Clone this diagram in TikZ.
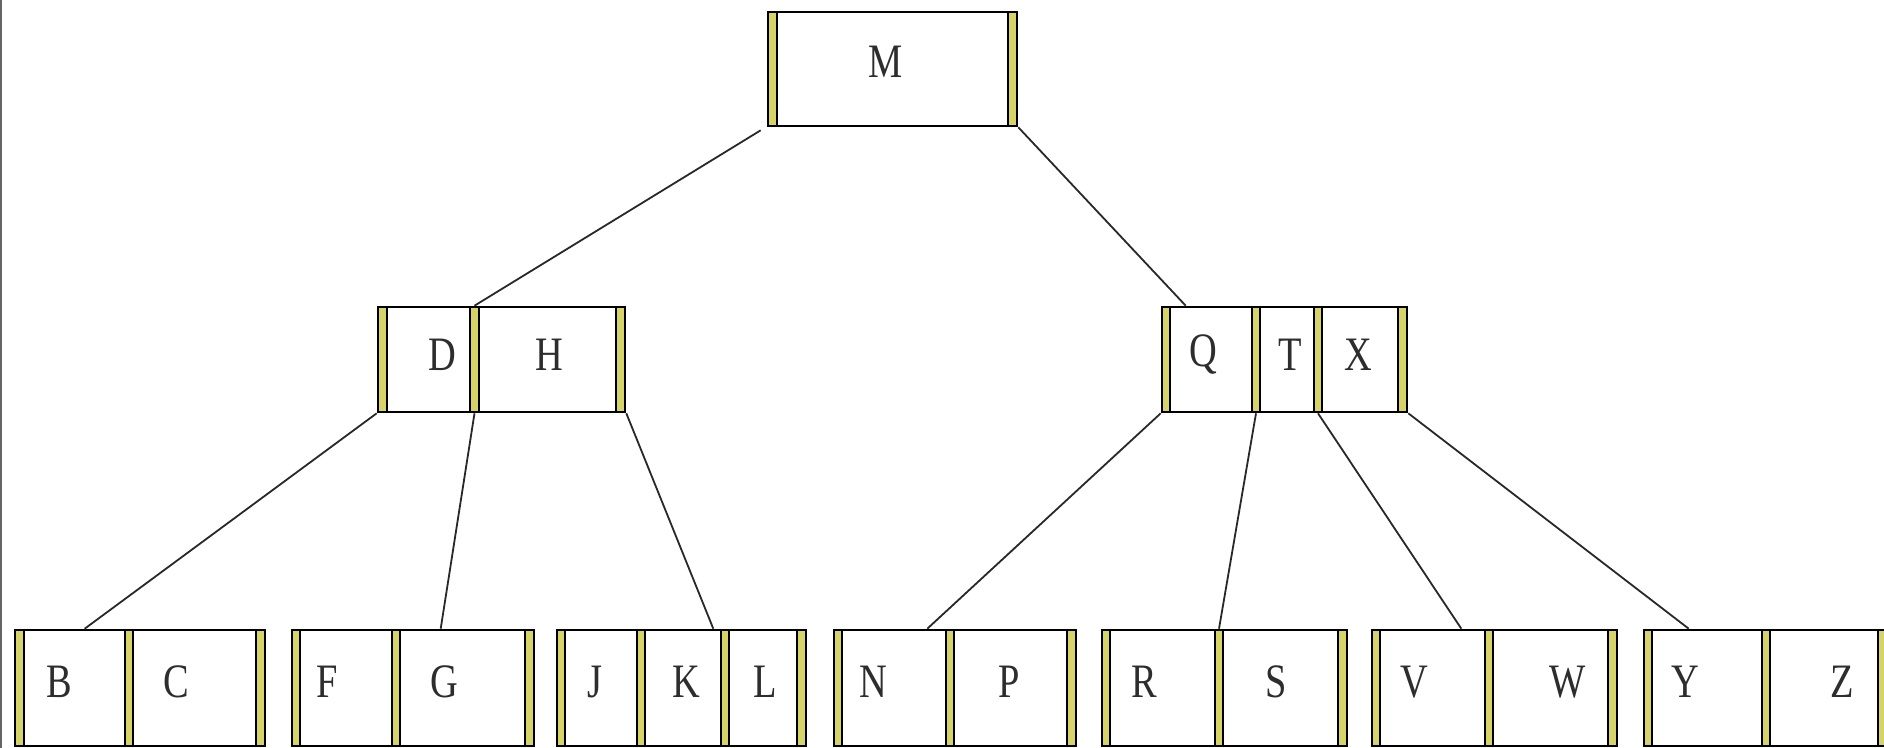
\documentclass[tikz,border=0pt]{standalone}
\usepackage{fontspec}
\usepackage{graphicx}
\setmainfont{Liberation Serif}
\usetikzlibrary{fit,calc}
\definecolor{ptr}{RGB}{214,212,104}
\definecolor{keygray}{RGB}{45,45,45}
\definecolor{linkgray}{RGB}{40,40,40}
\definecolor{edgegray}{RGB}{100,100,100}
\newcommand\keyfont{\fontsize{24}{28}\selectfont}
\newcommand\ptrbar[5]{\node[bar, fit={(#2,#4)(#3,#5)}] (#1) {};}
\newcommand\keycell[5]{\node[cell, fit={(#2,#4)(#3,#5)}] (#1) {};}
\newcommand\keytext[4]{\node[key] (#1) at (#2,#3) {\scalebox{0.8}[1]{#4}};}
\begin{document}
\begin{tikzpicture}[x=0.5pt,y=-0.5pt,
  bar/.style={draw=black, fill=ptr, line width=1.3pt, inner sep=0pt},
  cell/.style={draw=black, line width=1.3pt, inner sep=0pt},
  key/.style={font=\keyfont, text=keygray, inner sep=0pt},
  link/.style={draw=linkgray, line width=0.9pt}]
\useasboundingbox (0,0) rectangle (1884,748);
\fill[white] (0,0) rectangle (1884,748);
\draw[edgegray, line width=1pt] (1,0) -- (1,748);

% ---- root
\keycell{Mc}{777}{1008}{12}{126}
\ptrbar{Mb1}{768}{777}{12}{126}
\ptrbar{Mb2}{1008}{1017}{12}{126}
\keytext{Mt}{886}{62}{M}

% ---- D H
\keycell{Dc}{387}{470}{307}{412}
\keycell{Hc}{479}{616}{307}{412}
\ptrbar{DHb1}{378}{387}{307}{412}
\ptrbar{DHb2}{470}{479}{307}{412}
\ptrbar{DHb3}{616}{625}{307}{412}
\keytext{Dt}{442}{355}{D}
\keytext{Ht}{549}{355}{H}

% ---- Q T X
\keycell{Qc}{1170}{1252}{307}{412}
\keycell{Tc}{1260}{1314}{307}{412}
\keycell{Xc}{1322}{1398}{307}{412}
\ptrbar{QTXb1}{1162}{1170}{307}{412}
\ptrbar{QTXb2}{1252}{1260}{307}{412}
\ptrbar{QTXb3}{1314}{1322}{307}{412}
\ptrbar{QTXb4}{1398}{1407}{307}{412}
\keytext{Qt}{1203}{355}{Q}
\keytext{Tt}{1290}{355}{T}
\keytext{Xt}{1358}{355}{X}

% ---- leaves
\keycell{Bc}{24}{125}{630}{746}
\keycell{Cc}{133}{256}{630}{746}
\ptrbar{L1b1}{15}{24}{630}{746}
\ptrbar{L1b2}{125}{133}{630}{746}
\ptrbar{L1b3}{256}{265}{630}{746}
\keytext{Bt}{59}{682}{B}
\keytext{Ct}{176}{682}{C}

\keycell{Fc}{300}{392}{630}{746}
\keycell{Gc}{400}{525}{630}{746}
\ptrbar{L2b1}{292}{300}{630}{746}
\ptrbar{L2b2}{392}{400}{630}{746}
\ptrbar{L2b3}{525}{534}{630}{746}
\keytext{Ft}{327}{682}{F}
\keytext{Gt}{444}{682}{G}

\keycell{Jc}{565}{637}{630}{746}
\keycell{Kc}{645}{721}{630}{746}
\keycell{Lc}{729}{797}{630}{746}
\ptrbar{L3b1}{557}{565}{630}{746}
\ptrbar{L3b2}{637}{645}{630}{746}
\ptrbar{L3b3}{721}{729}{630}{746}
\ptrbar{L3b4}{797}{806}{630}{746}
\keytext{Jt}{595}{682}{J}
\keytext{Kt}{686}{682}{K}
\keytext{Lt}{765}{682}{L}

\keycell{Nc}{842}{946}{630}{746}
\keycell{Pc}{954}{1067}{630}{746}
\ptrbar{L4b1}{834}{842}{630}{746}
\ptrbar{L4b2}{946}{954}{630}{746}
\ptrbar{L4b3}{1067}{1076}{630}{746}
\keytext{Nt}{873}{682}{N}
\keytext{Pt}{1009}{682}{P}

\keycell{Rc}{1110}{1215}{630}{746}
\keycell{Sc}{1223}{1338}{630}{746}
\ptrbar{L5b1}{1102}{1110}{630}{746}
\ptrbar{L5b2}{1215}{1223}{630}{746}
\ptrbar{L5b3}{1338}{1347}{630}{746}
\keytext{Rt}{1144}{682}{R}
\keytext{St}{1276}{682}{S}

\keycell{Vc}{1380}{1485}{630}{746}
\keycell{Wc}{1493}{1608}{630}{746}
\ptrbar{L6b1}{1372}{1380}{630}{746}
\ptrbar{L6b2}{1485}{1493}{630}{746}
\ptrbar{L6b3}{1608}{1617}{630}{746}
\keytext{Vt}{1414}{682}{V}
\keytext{Wt}{1568}{682}{W}

\keycell{Yc}{1652}{1762}{630}{746}
\keycell{Zc}{1770}{1878}{630}{746}
\ptrbar{L7b1}{1644}{1652}{630}{746}
\ptrbar{L7b2}{1762}{1770}{630}{746}
\ptrbar{L7b3}{1878}{1887}{630}{746}
\keytext{Yt}{1685}{682}{Y}
\keytext{Zt}{1842}{682}{Z}

% ---- links
\draw[link] ($(Mb1.south west)+(-6,3)$) -- (DHb2.north);
\draw[link] (Mb2.south east) -- ($(Qc.north west)+(17,0)$);
\draw[link] (DHb1.south west) -- ($(Bc.north west)+(62,0)$);
\draw[link] (DHb2.south) -- ($(Gc.north west)+(42,0)$);
\draw[link] (DHb3.south east) -- ($(Kc.north east)+(-9,0)$);
\draw[link] (QTXb1.south west) -- ($(Nc.north east)+(-20,0)$);
\draw[link] (QTXb2.south) -- (L5b2.north);
\draw[link] (QTXb3.south) -- ($(Vc.north east)+(-25,0)$);
\draw[link] (QTXb4.south east) -- ($(Yc.north west)+(38,0)$);
\end{tikzpicture}
\end{document}
